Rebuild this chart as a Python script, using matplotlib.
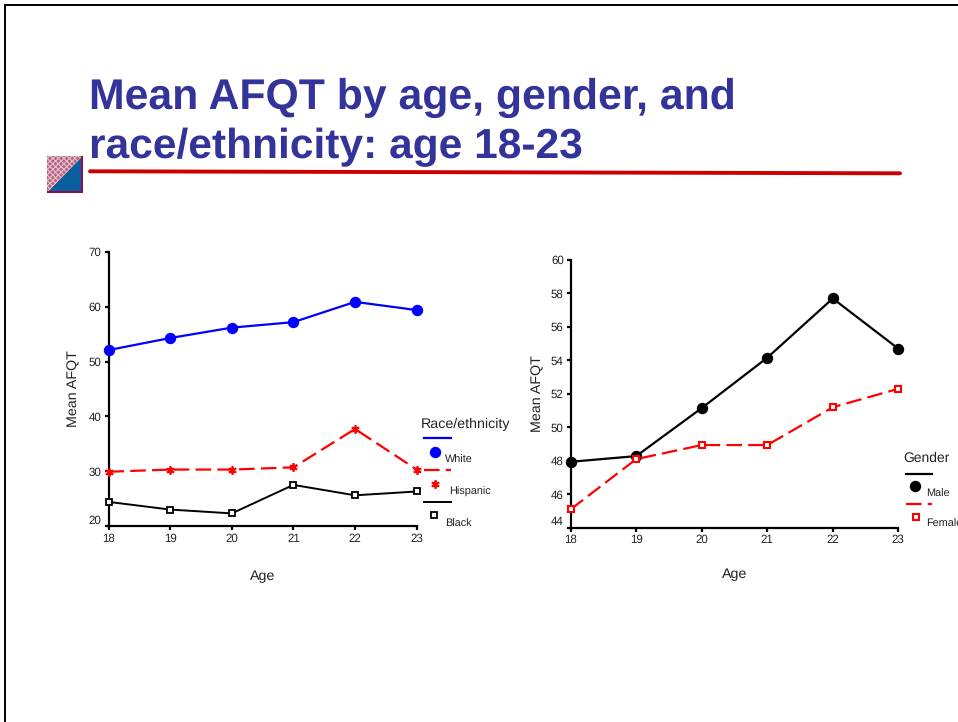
import matplotlib
matplotlib.use("Agg")
import matplotlib.pyplot as plt
from matplotlib.patches import Polygon

plt.rcParams['font.family'] = ['Liberation Sans', 'DejaVu Sans']
plt.rcParams['text.hinting'] = 'no_hinting'
plt.rcParams['hatch.linewidth'] = 0.8

ages = [18, 19, 20, 21, 22, 23]
white = [52.1, 54.3, 56.2, 57.2, 60.9, 59.4]
hispanic = [29.9, 30.3, 30.3, 30.7, 37.7, 30.3]
black = [24.4, 23.0, 22.3, 27.5, 25.6, 26.3]
male = [47.94, 48.28, 51.15, 54.16, 57.7, 54.7]
female = [45.1, 48.1, 48.94, 48.94, 51.2, 52.3]
title_lines = ["Mean AFQT by age, gender, and", "race/ethnicity: age 18-23"]
left_ticks = [20, 30, 40, 50, 60, 70]
right_ticks = [44, 46, 48, 50, 52, 54, 56, 58, 60]

W, H = 958, 722
DASH = (7, 2.8)
TXT = '#222222'
fig = plt.figure(figsize=(W / 100, H / 100), dpi=100, facecolor='white')

bg = fig.add_axes([0, 0, 1, 1])
bg.set_xlim(0, W)
bg.set_ylim(H, 0)
bg.axis('off')

# slide frame
bg.plot([5, 5, W], [H, 5, 5], color='black', lw=1.4, solid_joinstyle='miter')
# title
bg.text(89, 108.5, title_lines[0], fontsize=30.8, fontweight='bold', color='#333399', va='baseline', ha='left')
bg.text(89, 158, title_lines[1], fontsize=30.6, fontweight='bold', color='#333399', va='baseline', ha='left')
bg.plot([90, 900], [171.3, 173.3], color='#cc0000', lw=2.8, solid_capstyle='round')
# slide icon
bg.add_patch(Polygon([[47, 156], [83, 156], [83, 193], [47, 193]], fc='#8a0f4a', ec='none'))
bg.add_patch(Polygon([[47, 156], [81, 156], [81, 158], [49, 191], [47, 191]], fc='#b9607f', ec='#e3c3cf', hatch='xxxxxx', lw=0))
bg.add_patch(Polygon([[81, 158], [81, 191], [49, 191]], fc='#0a5f9e', ec='none'))


def make_axes(x0, x1, ytop, ybot, ylim, yticks, xpad, ypad):
    ax = fig.add_axes([x0 / W, 1 - ybot / H, (x1 - x0) / W, (ybot - ytop) / H])
    ax.patch.set_alpha(0)
    ax.set_xlim(18, 23)
    ax.set_ylim(*ylim)
    ax.set_xticks(ages)
    ax.set_yticks(yticks)
    ax.spines['top'].set_visible(False)
    ax.spines['right'].set_visible(False)
    for s in ('left', 'bottom'):
        ax.spines[s].set_linewidth(1.6)
    ax.tick_params(axis='both', labelsize=8.3, length=3, width=1.6, pad=2, labelcolor=TXT, color='black')
    ax.get_yticklabels()[0].set_verticalalignment('bottom')
    ax.set_xlabel('Age', fontsize=10.3, color=TXT, labelpad=xpad)
    ax.set_ylabel('Mean AFQT', fontsize=10.3, color=TXT, labelpad=ypad)
    return ax


ax1 = make_axes(108.5, 416.7, 252, 526, (20, 70), left_ticks, 18.5, 6)
ax1.plot(ages, white, color='#0000ff', lw=1.6, marker='o', ms=7.2, clip_on=False, zorder=5)
ax1.plot(ages, hispanic, color='#ff0000', lw=1.6, dashes=DASH, marker=(6, 2, 0), ms=6, mew=1.3, clip_on=False, zorder=4)
ax1.plot(ages, black, color='black', lw=1.4, marker='s', ms=5, mfc='white', mew=1.3, clip_on=False, zorder=4)

ax2 = make_axes(570.7, 898.3, 260, 527.7, (44, 60), right_ticks, 16, 5)
ax2.plot(ages, male, color='black', lw=1.6, marker='o', ms=7.2, clip_on=False, zorder=4)
ax2.plot(ages, female, color='#ff0000', lw=1.6, dashes=DASH, marker='s', ms=5, mfc='white', mew=1.5, clip_on=False, zorder=5)

# legends
leg = fig.add_axes([0, 0, 1, 1], zorder=10)
leg.patch.set_alpha(0)
leg.set_xlim(0, W)
leg.set_ylim(H, 0)
leg.axis('off')
leg.text(421, 424, 'Race/ethnicity', fontsize=10.3, color=TXT, va='center')
leg.plot([424, 451], [437.5, 437.5], color='#0000ff', lw=1.6)
leg.plot([435], [452], marker='o', ms=7.2, color='#0000ff')
leg.text(445, 460, 'White', fontsize=7.8, color=TXT, va='center')
leg.plot([424, 451], [470, 470], color='#ff0000', lw=1.6, dashes=DASH)
leg.plot([435], [483.5], marker=(6, 2, 0), ms=6, mew=1.3, color='#ff0000')
leg.text(449, 492, 'Hispanic', fontsize=7.8, color=TXT, va='center')
leg.plot([424, 451], [501.5, 501.5], color='black', lw=1.4)
leg.plot([434], [515], marker='s', ms=5, mfc='white', mec='black', mew=1.3)
leg.text(445, 524, 'Black', fontsize=7.8, color=TXT, va='center')
leg.text(903, 458, 'Gender', fontsize=10, color=TXT, va='center')
leg.plot([906, 932], [474, 474], color='black', lw=1.6)
leg.plot([915], [486], marker='o', ms=7.2, color='black')
leg.text(926, 494, 'Male', fontsize=7.8, color=TXT, va='center')
leg.plot([906, 932], [504, 504], color='#ff0000', lw=1.6, dashes=DASH)
leg.plot([916], [517], marker='s', ms=5, mfc='white', mec='#ff0000', mew=1.5)
leg.text(926, 524, 'Female', fontsize=7.8, color=TXT, va='center')

fig.savefig('out.png', dpi=100, facecolor='white')
